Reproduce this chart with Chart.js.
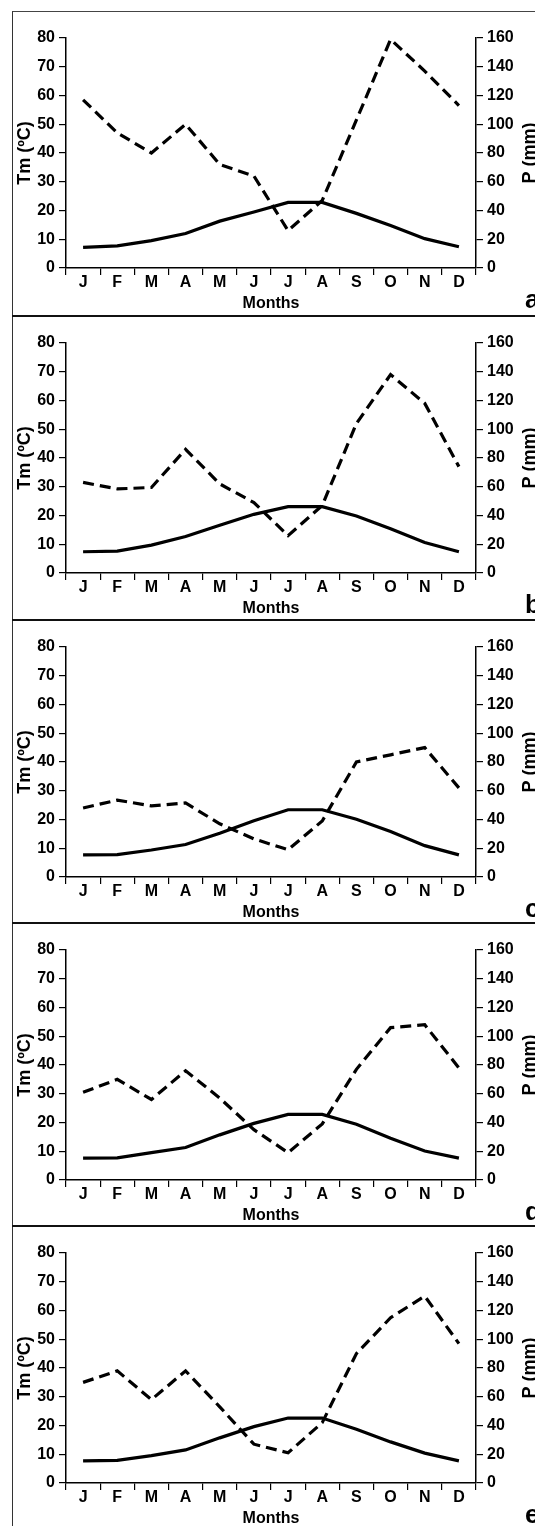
<!DOCTYPE html>
<html>
<head>
<meta charset="utf-8">
<script src="https://cdn.jsdelivr.net/npm/chart.js@4/dist/chart.umd.min.js"></script>
<style>
  html, body { margin: 0; padding: 0; background: #fff; overflow: hidden; width: 535px; height: 1526px; }
  #frame { position: absolute; left: 12px; top: 11px; width: 600px; height: 1530px; border-left: 1px solid #333; border-top: 1px solid #444; }
  .sep { position: absolute; left: 12px; width: 600px; height: 0; border-top: 2px solid #111; }
  canvas { position: absolute; left: 0; }
</style>
</head>
<body>
<div id="frame"></div>
<div class="sep" style="top:315px"></div>
<div class="sep" style="top:619px"></div>
<div class="sep" style="top:922px"></div>
<div class="sep" style="top:1225px"></div>
<canvas id="chartA" width="545" height="304" style="top:11px"></canvas>
<canvas id="chartB" width="545" height="304" style="top:316px"></canvas>
<canvas id="chartC" width="545" height="304" style="top:620px"></canvas>
<canvas id="chartD" width="545" height="304" style="top:923px"></canvas>
<canvas id="chartE" width="545" height="304" style="top:1226px"></canvas>

<script>
// DATA
const months = ["J", "F", "M", "A", "M", "J", "J", "A", "S", "O", "N", "D"];
const tmTicks = [0, 10, 20, 30, 40, 50, 60, 70, 80];
const pTicks = [0, 20, 40, 60, 80, 100, 120, 140, 160];

// mean temperature (ºC), left axis
const tmA = [7.2, 7.7, 9.5, 12.0, 16.3, 19.5, 22.8, 22.8, 19.0, 14.8, 10.2, 7.4];
const tmB = [7.4, 7.6, 9.7, 12.7, 16.6, 20.4, 23.1, 23.1, 19.8, 15.4, 10.6, 7.4];
const tmC = [7.7, 7.8, 9.4, 11.3, 15.2, 19.6, 23.4, 23.4, 20.1, 15.8, 10.9, 7.7];
const tmD = [7.6, 7.7, 9.5, 11.3, 15.7, 19.7, 22.8, 22.8, 19.4, 14.5, 10.1, 7.6];
const tmE = [7.7, 7.9, 9.5, 11.5, 15.7, 19.6, 22.6, 22.6, 18.7, 14.3, 10.4, 7.7];

// precipitation (mm), right axis
const pA = [117, 94, 80, 100, 72, 64, 26, 47, 103, 159, 137, 113];
const pB = [63, 58.5, 59.5, 86, 62, 49, 26, 47, 104, 138, 118, 74];
const pC = [48, 53.5, 49.5, 51.5, 37, 26.5, 19, 39, 80, 85, 90, 62];
const pD = [61, 70, 56, 76, 57, 35, 19, 39, 77, 106, 108, 78];
const pE = [70, 78, 58, 78, 53, 27, 21, 42, 90, 115, 130, 97];

const panelLetters = ["a", "b", "c", "d", "e"];

const FONT = '"Liberation Sans", Arial, sans-serif';

// right axis title (reads bottom to top) and panel letter
const extraText = {
  id: "extraText",
  afterDraw(chart, args, opts) {
    const ctx = chart.ctx;
    const area = chart.chartArea;
    ctx.save();
    ctx.fillStyle = "#000";
    ctx.font = "bold 18px " + FONT;
    ctx.translate(530, (area.top + area.bottom) / 2);
    ctx.rotate(-Math.PI / 2);
    ctx.textAlign = "center";
    ctx.textBaseline = "middle";
    ctx.fillText("P (mm)", 0, 0);
    ctx.restore();

    ctx.save();
    ctx.fillStyle = "#000";
    ctx.font = "bold 26px " + FONT;
    ctx.textAlign = "left";
    ctx.textBaseline = "alphabetic";
    ctx.fillText(opts.letter, 525, 297);
    ctx.restore();
  }
};

function axisGrid() {
  return { display: true, drawOnChartArea: false, drawTicks: true, tickLength: 7, color: "#000", lineWidth: 1.2 };
}

function makeChart(id, tm, p, letter) {
  new Chart(id, {
    type: "line",
    data: {
      labels: months,
      datasets: [{
        label: "Tm",
        data: tm,
        yAxisID: "y",
        borderColor: "#000",
        borderWidth: 3.2,
        pointRadius: 0,
        tension: 0
      }, {
        label: "P",
        data: p,
        yAxisID: "y2",
        borderColor: "#000",
        borderWidth: 3.2,
        borderDash: [11, 6],
        pointRadius: 0,
        tension: 0
      }]
    },
    options: {
      responsive: false,
      animation: false,
      events: [],
      layout: { padding: { top: 27, left: 0, right: 0, bottom: 0 } },
      plugins: {
        legend: { display: false },
        tooltip: { enabled: false },
        extraText: { letter: letter }
      },
      scales: {
        x: {
          type: "category",
          offset: true,
          grid: Object.assign(axisGrid(), { offset: true }),
          border: { display: true, color: "#000", width: 1.5 },
          ticks: { color: "#000", font: { family: FONT, size: 16, weight: "bold", lineHeight: 1 }, padding: 0, maxRotation: 0, autoSkip: false },
          title: { display: true, text: "Months", color: "#000", font: { family: FONT, size: 16, weight: "bold", lineHeight: 1 }, padding: { top: 0, bottom: 3 } },
          afterFit: function(scale) { scale.height = 47; }
        },
        y: {
          position: "left",
          min: 0, max: 80,
          afterBuildTicks: function(scale) { scale.ticks = tmTicks.map(v => ({ value: v })); },
          grid: axisGrid(),
          border: { display: true, color: "#000", width: 1.5 },
          ticks: { color: "#000", font: { family: FONT, size: 16, weight: "bold" }, padding: 4 },
          title: { display: true, text: "Tm (ºC)", color: "#000", font: { family: FONT, size: 18, weight: "bold", lineHeight: 1 }, padding: { top: 16, bottom: 0 } },
          afterFit: function(scale) { scale.width = 66; }
        },
        y2: {
          position: "right",
          min: 0, max: 160,
          afterBuildTicks: function(scale) { scale.ticks = pTicks.map(v => ({ value: v })); },
          grid: axisGrid(),
          border: { display: true, color: "#000", width: 1.5 },
          ticks: { color: "#000", font: { family: FONT, size: 16, weight: "bold" }, padding: 4 },
          afterFit: function(scale) { scale.width = 69; }
        }
      }
    },
    plugins: [extraText]
  });
}

document.addEventListener("DOMContentLoaded", function() {
  makeChart("chartA", tmA, pA, panelLetters[0]);
  makeChart("chartB", tmB, pB, panelLetters[1]);
  makeChart("chartC", tmC, pC, panelLetters[2]);
  makeChart("chartD", tmD, pD, panelLetters[3]);
  makeChart("chartE", tmE, pE, panelLetters[4]);
});
</script>
</body>
</html>
